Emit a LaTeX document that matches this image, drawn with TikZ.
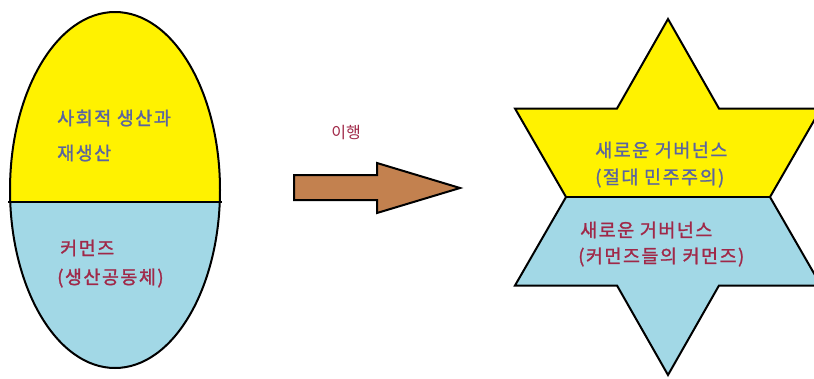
\documentclass[tikz,border=0pt]{standalone}
\usepackage{fontspec}
\newfontfamily\kr[FakeBold=1.3, LetterSpace=8]{Noto Sans CJK KR}
\newfontfamily\krthin{Noto Sans CJK KR}
\definecolor{eggyellow}{HTML}{FFF200}
\definecolor{eggblue}{HTML}{A2D8E6}
\definecolor{arrowbrown}{HTML}{C3814F}
\definecolor{txtblue}{HTML}{5A64A0}
\definecolor{txtred}{HTML}{A02848}
\tikzset{
  outline/.style={draw=black, line width=2pt, line join=miter},
  lbl/.style={font=\kr\fontsize{18.5}{20}\selectfont, inner sep=0pt, anchor=west},
}
\begin{document}
\begin{tikzpicture}[x=1pt, y=-1pt]
\useasboundingbox (0,0) rectangle (814,378);
% egg (ellipse)
\fill[eggblue] (115,190) ellipse [x radius=105, y radius=178];
\begin{scope}
  \clip (0,0) rectangle (240,202);
  \fill[eggyellow] (115,190) ellipse [x radius=105, y radius=178];
\end{scope}
\draw[outline] (115,190) ellipse [x radius=105, y radius=178];
\coordinate (eL) at (8,202);
\coordinate (eR) at (222,202);
\draw[outline] (eL) -- (eR);
\node[lbl, text=txtblue] (t1) at (57,118) {사회적 생산과};
\node[lbl, text=txtblue] (t2) at (57,153) {재생산};
\node[lbl, text=txtred] (t3) at (60,248) {커먼즈};
\node[lbl, text=txtred] (t4) at (57,278) {(생산공동체)};
% arrow
\draw[outline, fill=arrowbrown] (294,175) -- (377,175) -- (377,163) -- (460,188) -- (377,213) -- (377,200) -- (294,200) -- cycle;
\node[anchor=center, inner sep=0pt, font=\krthin\fontsize{16}{18}\selectfont, text=txtred] (mv) at (346,133) {이행};
% star
\begin{scope}
  \clip (0,0) rectangle (814,378);
  \fill[eggyellow] (668,19) -- (719,108.5) -- (821,108.5) -- (770,197) -- (566,197) -- (515,108.5) -- (617,108.5) -- cycle;
  \fill[eggblue] (566,197) -- (770,197) -- (821,285.5) -- (719,285.5) -- (668,375) -- (617,285.5) -- (515,285.5) -- cycle;
  \draw[outline] (668,19) -- (719,108.5) -- (821,108.5) -- (770,197) -- (821,285.5) -- (719,285.5) -- (668,375) -- (617,285.5) -- (515,285.5) -- (566,197) -- (515,108.5) -- (617,108.5) -- cycle;
  \draw[outline] (566,197) -- (770,197);
\end{scope}
\node[lbl, text=txtblue] (s1) at (595,150) {새로운 거버넌스};
\node[lbl, text=txtblue] (s2) at (595,178) {(절대 민주주의)};
\node[lbl, text=txtred] (s3) at (580,230) {새로운 거버넌스};
\node[lbl, text=txtred] (s4) at (578,257) {(커먼즈들의 커먼즈)};
\end{tikzpicture}
\end{document}
